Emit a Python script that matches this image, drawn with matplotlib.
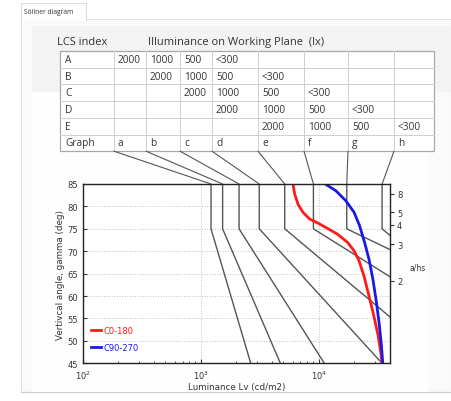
import numpy as np
import matplotlib
matplotlib.use("Agg")
import matplotlib.pyplot as plt
from matplotlib.patches import Rectangle, ConnectionPatch

########################################
# Data
#
lcs_rows = ["A", "B", "C", "D", "E", "Graph"]
table_cells = [
    ["2000", "1000", "500", "<300", "", "", "", ""],
    ["", "2000", "1000", "500", "<300", "", "", ""],
    ["", "", "2000", "1000", "500", "<300", "", ""],
    ["", "", "", "2000", "1000", "500", "<300", ""],
    ["", "", "", "", "2000", "1000", "500", "<300"],
    ["a", "b", "c", "d", "e", "f", "g", "h"],
]

# Soellner limit curves: luminance at 85..75 deg, and where the slope reaches 45 deg
graph_names = ["a", "b", "c", "d", "e", "f", "g", "h"]
L_top = [1220, 1530, 2110, 3130, 5150, 9020, 17300, 34500]
L_45 = [2650, 4730, 11160, 34500, 118600, 601000, 4.1e6, 8.0e5]

# luminance curves of the luminaire
gamma_c0 = [85, 82.8, 80.5, 78.7, 77.2, 76.5, 75.3, 73.8, 72.0, 70.1, 67.9, 64.5,
            60.1, 55.6, 51.2, 47.4, 45]
lum_c0 = [6050, 6250, 6670, 7350, 8360, 9490, 11510, 14440, 17530, 19950, 21980,
          24210, 26670, 29370, 31920, 33630, 34510]
gamma_c90 = [85, 83.5, 81.3, 78.7, 75.7, 72.0, 68.3, 63.8, 58.6, 53.4, 49.0, 45]
lum_c90 = [11380, 13970, 16940, 19950, 22230, 24490, 26670, 28820, 30900, 32750,
           34040, 34980]

a_hs = [8, 5, 4, 3, 2]

########################################
# Figure + background (pixel coords)
#
W, H = 451, 402
fig = plt.figure(figsize=(W / 100, H / 100), dpi=100)
fig.patch.set_facecolor("white")

bg = fig.add_axes([0, 0, 1, 1], zorder=0)
bg.set_xlim(0, W)
bg.set_ylim(H, 0)
bg.axis("off")

# panel + tab
bg.add_patch(Rectangle((21, 20), 430, 373, fc="#fafafa", ec="#e2e2e2", lw=0.8))
bg.add_patch(Rectangle((32, 27), 419, 66, fc="#f3f3f3", ec="none"))
bg.add_patch(Rectangle((32, 93), 396, 300, fc="#fefefe", ec="none"))
bg.plot([21, 451], [393, 393], color="#cccccc", lw=0.8)
bg.add_patch(Rectangle((21, 4), 65, 17, fc="white", ec="#dcdcdc", lw=0.8))
bg.add_patch(Rectangle((21.5, 19), 64, 3, fc="white", ec="none"))
bg.text(24, 12.5, "Söllner diagram", fontsize=4.8, family="Open Sans",
        color="#333333", va="center")

# table
col_x = [60, 114, 146, 180, 212, 258, 304, 348, 394, 434]
row_y = [52, 68.7, 85.4, 102.1, 118.8, 135.5, 152.2]
bg.add_patch(Rectangle((col_x[0], row_y[0]), col_x[-1] - col_x[0], row_y[-1] - row_y[0],
                       fc="white", ec="#a8a8a8", lw=0.9))
for x in col_x[1:-1]:
    bg.plot([x, x], [row_y[0], row_y[-1]], color="#cfcfcf", lw=0.7)
for y in row_y[1:-1]:
    bg.plot([col_x[0], col_x[-1]], [y, y], color="#cfcfcf", lw=0.7)

tfont = dict(fontsize=7.3, family="Open Sans", color="#333333", va="center")
for i, name in enumerate(lcs_rows):
    yc = (row_y[i] + row_y[i + 1]) / 2
    bg.text(col_x[0] + 5, yc, name, **tfont)
    for j, val in enumerate(table_cells[i]):
        if val:
            bg.text(col_x[j + 1] + 4, yc, val, **tfont)

bg.text(57, 42.5, "LCS index", fontsize=8, family="Open Sans", color="#333333", va="center")
bg.text(148, 42.5, "Illuminance on Working Plane  (lx)", fontsize=8,
        family="Open Sans", color="#333333", va="center")

########################################
# Diagram
#
ax = fig.add_axes([83 / W, 1 - 364.3 / H, 307 / W, 179.3 / H], zorder=2)
ax.set_facecolor("white")
ax.set_xscale("log")
ax.set_xlim(100, 10 ** 4.605)
ax.set_ylim(45, 85)
ax.set_yticks(np.arange(45, 86, 5))
ax.grid(True, which="major", color="#c0c0c0", ls=":", lw=0.7)

for i in range(len(graph_names)):
    ax.plot([L_top[i], L_top[i], L_45[i]], [85, 75, 45], color="#555555", lw=1.0)

ax.plot(lum_c0, gamma_c0, color="#ff1a1a", lw=2.0, label="C0-180")
ax.plot(lum_c90, gamma_c90, color="#1a1ae6", lw=2.0, label="C90-270")

ax.tick_params(which="both", direction="in", labelsize=6, colors="#333333",
               top=False, right=False)
ax.tick_params(which="major", length=3)
ax.tick_params(which="minor", length=1.5)
for s in ax.spines.values():
    s.set_color("#222222")
    s.set_linewidth(1.0)
ax.set_xlabel("Luminance Lv (cd/m2)", fontsize=6.3, color="#333333", labelpad=1)
ax.set_ylabel("Vertivcal angle, gamma (deg)", fontsize=6.3, color="#333333", labelpad=2)

leg = ax.legend(loc="lower left", frameon=False, fontsize=6, handlelength=1.3,
                handletextpad=0.2, labelspacing=1.0, labelcolor="linecolor",
                bbox_to_anchor=(0.0, 0.02))

# a/hs scale on the right
ax2 = ax.twinx()
ax2.set_ylim(45, 85)
ax2.set_yticks(np.degrees(np.arctan(a_hs)))
ax2.set_yticklabels([str(v) for v in a_hs])
ax2.tick_params(direction="out", length=3, labelsize=6, colors="#333333", pad=2)
ax2.set_ylabel("a/hs", rotation=0, fontsize=5.5, color="#333333", labelpad=4)
ax2.yaxis.set_label_coords(1.09, 0.56)
for s in ax2.spines.values():
    s.set_visible(False)

########################################
# connect graph letters with their curves
#
for i in range(len(graph_names)):
    con = ConnectionPatch(xyA=(col_x[i + 1], row_y[-1]), coordsA=bg.transData,
                          xyB=(L_top[i], 85), coordsB=ax.transData,
                          color="#555555", lw=0.8)
    fig.add_artist(con)

fig.savefig("out.png", dpi=100)
